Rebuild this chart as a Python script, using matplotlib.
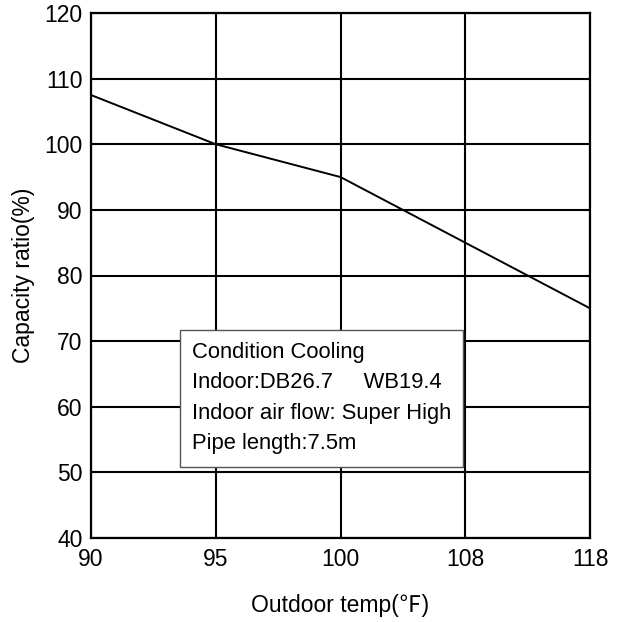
import matplotlib.pyplot as plt

plt.rcParams['font.family'] = ['Liberation Sans', 'Noto Sans CJK JP', 'DejaVu Sans']

# outdoor temps are shown at equal spacing
temps = ['90', '95', '100', '108', '118']
ratio = [107.5, 100, 95, 85, 75]

fig = plt.figure(figsize=(6.44, 6.22), dpi=100)
ax = fig.add_axes([91 / 644, 1 - 538 / 622, 499 / 644, 525 / 622])

x = range(len(temps))
ax.plot(x, ratio, color='black', linewidth=1.4, zorder=3)

ax.set_xlim(0, len(temps) - 1)
ax.set_ylim(40, 120)
ax.set_xticks(list(x))
ax.set_xticklabels(temps)
ax.set_yticks(range(40, 121, 10))
ax.tick_params(length=0, labelsize=16.5)
ax.tick_params(axis='x', pad=7)
ax.tick_params(axis='y', pad=6)
ax.grid(True, color='black', linewidth=1.5)
for s in ax.spines.values():
    s.set_linewidth(1.6)

ax.set_xlabel('Outdoor temp(℉)', fontsize=16.5, labelpad=17)
ax.set_ylabel('Capacity ratio(%)', fontsize=16.5, labelpad=7)

notes = ['Condition Cooling',
         'Indoor:DB26.7     WB19.4',
         'Indoor air flow: Super High',
         'Pipe length:7.5m']
ax.text(0.202, 0.374, '\n'.join(notes), transform=ax.transAxes,
        fontsize=15.8, linespacing=1.6, va='top', ha='left', zorder=5,
        bbox=dict(boxstyle='square,pad=0.55', facecolor='white',
                  edgecolor='#555555', linewidth=1))

fig.savefig('out.png', dpi=100)
